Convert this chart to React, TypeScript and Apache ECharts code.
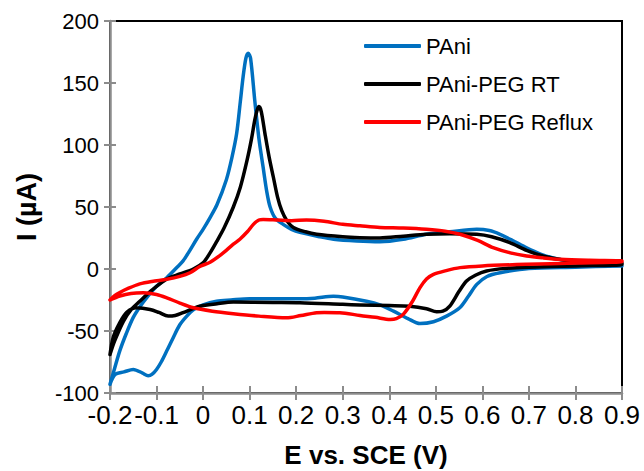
import React, { useEffect, useRef } from "react";
import * as echarts from "echarts";

const seriesNames = ["PAni", "PAni-PEG RT", "PAni-PEG Reflux"];
const seriesColors = ["#0070C0", "#000000", "#FF0000"];

const xTicks = { min: -0.2, max: 0.9, interval: 0.1 };
const yTicks = { min: -100, max: 200, interval: 50 };

// PAni: anodic sweep then cathodic sweep (E in V, I in µA)
const pani: [number, number][] = [
  [-0.2, -93], [-0.19, -80], [-0.179, -66], [-0.165, -52], [-0.15, -39], [-0.135, -30],
  [-0.121, -23], [-0.1, -14], [-0.078, -7], [-0.057, 1], [-0.043, 6.5], [-0.03, 14],
  [-0.014, 24], [0, 32], [0.015, 41.5], [0.03, 52], [0.05, 72], [0.062, 90], [0.072, 109],
  [0.08, 135], [0.086, 155], [0.092, 170], [0.097, 174], [0.102, 170], [0.111, 136],
  [0.12, 105], [0.129, 82], [0.137, 62], [0.144, 50], [0.155, 41], [0.172, 36], [0.19, 32],
  [0.208, 29.5], [0.25, 26], [0.28, 24], [0.33, 22.6], [0.38, 22], [0.43, 24], [0.48, 28],
  [0.53, 30], [0.588, 32], [0.615, 31], [0.638, 28], [0.665, 23], [0.695, 17], [0.725, 12],
  [0.752, 9], [0.8, 5.5], [0.85, 3.5], [0.9, 2.5],
  [0.9, 2.4], [0.8, 1.5], [0.7, 0.5], [0.638, -3], [0.61, -6], [0.588, -12.4], [0.57, -22],
  [0.552, -31], [0.523, -38], [0.495, -42.5], [0.466, -44], [0.44, -40], [0.409, -34],
  [0.38, -29], [0.351, -26], [0.3, -22.5], [0.28, -22], [0.24, -23.5], [0.208, -24],
  [0.15, -24], [0.1, -24], [0.06, -25], [0.029, -26], [0, -29], [-0.021, -33], [-0.035, -38],
  [-0.05, -45], [-0.065, -56], [-0.078, -66], [-0.09, -75], [-0.1, -81], [-0.11, -85],
  [-0.118, -86], [-0.13, -84], [-0.15, -81], [-0.17, -83], [-0.189, -85], [-0.2, -93],
];

// PAni-PEG RT
const paniPegRT: [number, number][] = [
  [-0.2, -69], [-0.19, -58], [-0.171, -42], [-0.155, -33], [-0.136, -26], [-0.11, -17],
  [-0.078, -8], [-0.05, -4], [-0.021, 0], [0, 5], [0.015, 13], [0.029, 22], [0.045, 33],
  [0.065, 50], [0.08, 66], [0.094, 87], [0.104, 105], [0.111, 120], [0.116, 128], [0.12, 131],
  [0.125, 127], [0.133, 109], [0.142, 90], [0.151, 74], [0.16, 58], [0.169, 47], [0.18, 39],
  [0.194, 33.5], [0.22, 30], [0.244, 28], [0.3, 26], [0.337, 25.3], [0.38, 25], [0.43, 26.5],
  [0.48, 28], [0.53, 28.5], [0.588, 28], [0.62, 26], [0.659, 21.3], [0.695, 15], [0.73, 10.5],
  [0.77, 7.5], [0.82, 6], [0.9, 5],
  [0.9, 3.6], [0.8, 2.5], [0.7, 1.5], [0.65, 0.5], [0.609, -1.6], [0.585, -5], [0.566, -9.7],
  [0.55, -18], [0.53, -29.9], [0.515, -34], [0.502, -34.5], [0.48, -32], [0.444, -30],
  [0.4, -29.5], [0.337, -29], [0.3, -28.5], [0.208, -27.2], [0.15, -27], [0.065, -26.7],
  [0.03, -28], [-0.007, -30], [-0.043, -35.2], [-0.06, -37.5], [-0.075, -38], [-0.095, -35],
  [-0.114, -32.6], [-0.143, -31.3], [-0.164, -35], [-0.18, -44], [-0.193, -55], [-0.2, -69],
];

// PAni-PEG Reflux
const paniPegReflux: [number, number][] = [
  [-0.2, -25], [-0.19, -21.5], [-0.179, -19], [-0.16, -15.5], [-0.136, -12], [-0.11, -10],
  [-0.078, -8.3], [-0.05, -6], [-0.028, -3], [-0.007, 2], [0.015, 5.5], [0.04, 12], [0.065, 20],
  [0.079, 24], [0.095, 30], [0.108, 36], [0.12, 39.5], [0.129, 40], [0.16, 39.5], [0.19, 39],
  [0.222, 39.5], [0.26, 38.5], [0.3, 36], [0.337, 34.8], [0.38, 33.5], [0.43, 33], [0.48, 32],
  [0.52, 30.5], [0.552, 28], [0.59, 23], [0.623, 17.2], [0.66, 13], [0.695, 10.5], [0.73, 9],
  [0.767, 7.8], [0.83, 7], [0.9, 6.5],
  [0.9, 5.9], [0.8, 4.8], [0.695, 3.8], [0.6, 2.5], [0.552, 1.1], [0.52, -1.5], [0.495, -4.3],
  [0.48, -8], [0.466, -15], [0.45, -26], [0.43, -36.6], [0.415, -40], [0.402, -40.7],
  [0.37, -39], [0.337, -37.5], [0.294, -35.2], [0.26, -35], [0.244, -35.2], [0.21, -37.5],
  [0.179, -39.4], [0.12, -38], [0.065, -36], [0.02, -34], [-0.021, -31.3], [-0.05, -27.5],
  [-0.078, -23.2], [-0.1, -20.5], [-0.128, -19.2], [-0.155, -19.7], [-0.179, -21.8], [-0.2, -25],
];

const seriesData = [pani, paniPegRT, paniPegReflux];

const xTitle = "E vs. SCE (V)";
const yTitle = "I (µA)";

const FONT = "'Liberation Sans', Arial, sans-serif";
const AXIS_GRAY = "#8C8C8C";

export default function App() {
  const ref = useRef<HTMLDivElement>(null);

  useEffect(() => {
    if (!ref.current) return;
    const chart = echarts.init(ref.current, undefined, { renderer: "svg" });
    const fmtX = (v: number) => {
      const r = Math.round(v * 10) / 10;
      return r === 0 ? "0" : String(r);
    };
    const option: any = {
      animation: false,
      backgroundColor: "#ffffff",
      textStyle: { fontFamily: FONT },
      grid: {
        left: 110,
        top: 21,
        right: 22,
        bottom: 78,
        show: true,
        borderColor: "#000000",
        borderWidth: 2,
      },
      legend: {
        data: seriesNames,
        orient: "vertical",
        left: 359,
        top: 28,
        icon: "roundRect",
        itemWidth: 57,
        itemHeight: 4,
        itemGap: 12,
        textStyle: { fontSize: 22, fontFamily: FONT, color: "#000", lineHeight: 26 },
      },
      xAxis: [
        {
          type: "value",
          min: xTicks.min,
          max: xTicks.max,
          interval: xTicks.interval,
          position: "bottom",
          axisLine: { show: true, onZero: false, lineStyle: { color: AXIS_GRAY, width: 2.5 } },
          axisTick: { show: true, length: 7, lineStyle: { color: AXIS_GRAY, width: 2 } },
          axisLabel: {
            formatter: fmtX,
            fontSize: 26,
            color: "#000",
            fontFamily: FONT,
            margin: 9,
            hideOverlap: false,
          },
          splitLine: { show: false },
        },
        {
          type: "value",
          min: xTicks.min,
          max: xTicks.max,
          interval: xTicks.interval,
          position: "bottom",
          axisLine: { show: false, onZero: false },
          axisTick: { show: true, inside: true, length: 7, lineStyle: { color: AXIS_GRAY, width: 2 } },
          axisLabel: { show: false },
          splitLine: { show: false },
        },
      ],
      yAxis: [
        {
          type: "value",
          min: yTicks.min,
          max: yTicks.max,
          interval: yTicks.interval,
          position: "left",
          axisLine: { show: true, onZero: false, lineStyle: { color: AXIS_GRAY, width: 2.5 } },
          axisTick: { show: true, length: 6, lineStyle: { color: AXIS_GRAY, width: 2 } },
          axisLabel: { fontSize: 22, color: "#000", fontFamily: FONT, margin: 11 },
          splitLine: { show: false },
        },
        {
          type: "value",
          min: yTicks.min,
          max: yTicks.max,
          interval: yTicks.interval,
          position: "left",
          axisLine: { show: false, onZero: false },
          axisTick: { show: true, inside: true, length: 6, lineStyle: { color: AXIS_GRAY, width: 2 } },
          axisLabel: { show: false },
          splitLine: { show: false },
        },
      ],
      graphic: [
        {
          type: "text",
          x: 366,
          y: 455,
          style: {
            text: xTitle,
            font: `bold 26px ${FONT}`,
            fill: "#000",
            textAlign: "center",
            textVerticalAlign: "middle",
          },
        },
        {
          type: "text",
          x: 27,
          y: 207,
          rotation: Math.PI / 2,
          style: {
            text: yTitle,
            font: `bold 27px ${FONT}`,
            fill: "#000",
            textAlign: "center",
            textVerticalAlign: "middle",
          },
        },
      ],
      series: seriesData.map((d, i) => ({
        name: seriesNames[i],
        type: "line",
        xAxisIndex: 0,
        yAxisIndex: 0,
        data: d,
        smooth: 0.3,
        showSymbol: false,
        symbol: "none",
        lineStyle: { color: seriesColors[i], width: 3.5, cap: "round", join: "round" },
        itemStyle: { color: seriesColors[i] },
        clip: true,
      })),
    };
    chart.setOption(option);
    return () => chart.dispose();
  }, []);

  return (
    <div
      ref={ref}
      style={{ position: "fixed", left: 0, top: 0, width: 644, height: 471, background: "#fff" }}
    />
  );
}
